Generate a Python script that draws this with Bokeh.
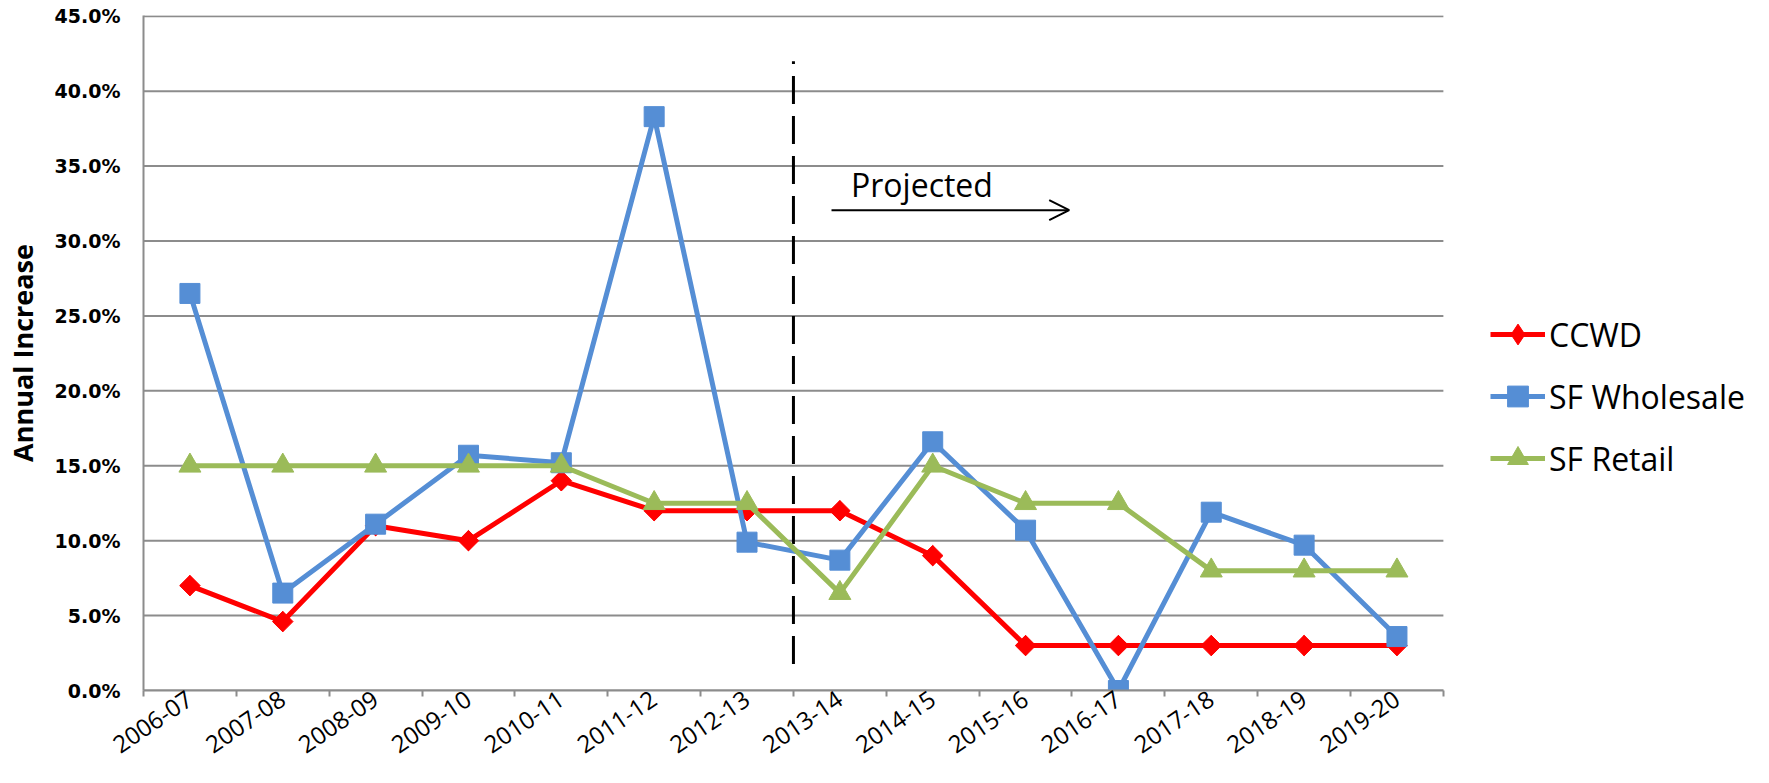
import math
from bokeh.plotting import figure
from bokeh.models import (FixedTicker, NumeralTickFormatter, Legend, LegendItem,
                          Arrow, OpenHead, Label, ColumnDataSource)
from bokeh.embed import file_html
from bokeh.resources import INLINE

# ---- data ----
categories = ["2006-07", "2007-08", "2008-09", "2009-10", "2010-11", "2011-12", "2012-13",
              "2013-14", "2014-15", "2015-16", "2016-17", "2017-18", "2018-19", "2019-20"]
ccwd = [7.0, 4.6, 11.0, 10.0, 14.0, 12.0, 12.0, 12.0, 9.0, 3.0, 3.0, 3.0, 3.0, 3.0]
sf_wholesale = [26.5, 6.5, 11.1, 15.7, 15.2, 38.3, 9.9, 8.7, 16.6, 10.7, 0.0, 11.9, 9.7, 3.6]
sf_retail = [15.0, 15.0, 15.0, 15.0, 15.0, 12.5, 12.5, 6.5, 15.0, 12.5, 12.5, 8.0, 8.0, 8.0]
y_ticks = [0.0, 5.0, 10.0, 15.0, 20.0, 25.0, 30.0, 35.0, 40.0, 45.0]

RED = "#FF0000"
BLUE = "#558ED5"
GREEN = "#9BBB59"
GRID = "#8C8C8C"

n = len(categories)
xs = list(range(n))
src = ColumnDataSource(dict(
    x=xs,
    ccwd=[v / 100 for v in ccwd],
    wh=[v / 100 for v in sf_wholesale],
    rt=[v / 100 for v in sf_retail],
))

# the frame runs on to the right edge so that the legend can sit inside it
p = figure(width=1753, height=775, output_backend="svg", toolbar_location=None,
           x_range=(-0.5, 16.84), y_range=(0, 0.4505),
           min_border_left=135, min_border_right=0, min_border_top=15, min_border_bottom=85)
p.outline_line_color = None
p.background_fill_color = "white"

# axes
p.xaxis.ticker = FixedTicker(ticks=xs, minor_ticks=[i - 0.5 for i in range(n + 1)])
p.xaxis.bounds = (-0.5, n - 0.5)
p.xaxis.major_label_overrides = {i: c for i, c in enumerate(categories)}
p.xaxis.major_label_orientation = 0.6
p.xaxis.major_tick_line_color = None
p.xaxis.major_tick_out = 0
p.xaxis.major_tick_in = 0
p.xaxis.minor_tick_line_color = GRID
p.xaxis.minor_tick_line_width = 2
p.xaxis.minor_tick_out = 6
p.xaxis.minor_tick_in = 0
p.xaxis.axis_line_color = GRID
p.xaxis.axis_line_width = 2
p.xaxis.major_label_text_font = "Open Sans"
p.xaxis.major_label_text_font_size = "24px"
p.xaxis.major_label_text_color = "black"
p.xaxis.major_label_standoff = 0

p.yaxis.ticker = FixedTicker(ticks=[v / 100 for v in y_ticks])
p.yaxis.formatter = NumeralTickFormatter(format="0.0%")
p.yaxis.major_tick_line_color = None
p.yaxis.minor_tick_line_color = None
p.yaxis.major_tick_out = 0
p.yaxis.major_tick_in = 0
p.yaxis.axis_line_color = GRID
p.yaxis.axis_line_width = 2
p.yaxis.major_label_text_font = "DejaVu Sans"
p.yaxis.major_label_text_font_style = "bold"
p.yaxis.major_label_text_font_size = "19px"
p.yaxis.major_label_text_color = "black"
p.yaxis.major_label_standoff = 23
p.yaxis.axis_label = "Annual Increase"
p.yaxis.axis_label_text_font = "Open Sans"
p.yaxis.axis_label_text_font_style = "bold"
p.yaxis.axis_label_text_font_size = "27px"
p.yaxis.axis_label_text_color = "black"
p.yaxis.axis_label_standoff = 11

p.xgrid.grid_line_color = None
p.ygrid.grid_line_color = None

# horizontal gridlines limited to the category span
gy = [v / 100 for v in y_ticks]
p.segment(x0=[-0.5] * len(gy), y0=gy, x1=[n - 0.5] * len(gy), y1=gy,
          line_color=GRID, line_width=2)

# projected divider and annotation
p.segment(x0=6.5, y0=0.0177, x1=6.5, y1=0.42, line_color="black", line_width=3,
          line_dash="28 12")
p.add_layout(Arrow(end=OpenHead(size=20, line_width=2, line_color="black"),
                   x_start=6.91, y_start=0.3206, x_end=9.47, y_end=0.3206,
                   line_width=2, line_color="black"))
p.add_layout(Label(x=7.12, y=0.338, text="Projected", text_font="Open Sans",
                   text_font_size="32px", text_color="black", text_baseline="alphabetic"))

# series
l1 = p.line("x", "ccwd", source=src, line_color=RED, line_width=5)
k1 = p.scatter("x", "ccwd", source=src, marker="diamond", size=20,
               fill_color=RED, line_color=RED)
m1 = p.scatter("x", "ccwd", source=src, marker="square", angle=math.pi / 4, size=14.5,
               fill_color=RED, line_color=RED)
l2 = p.line("x", "wh", source=src, line_color=BLUE, line_width=5)
m2 = p.scatter("x", "wh", source=src, marker="square", size=20,
               fill_color=BLUE, line_color=BLUE)
l3 = p.line("x", "rt", source=src, line_color=GREEN, line_width=5)
m3 = p.scatter("x", "rt", source=src, marker="triangle", size=22,
               fill_color=GREEN, line_color=GREEN)

legend = Legend(items=[
    LegendItem(label="CCWD", renderers=[l1, k1]),
    LegendItem(label="SF Wholesale", renderers=[l2, m2]),
    LegendItem(label="SF Retail", renderers=[l3, m3]),
], location=(1347, 206))
legend.border_line_color = None
legend.background_fill_alpha = 0
legend.padding = 0
legend.margin = 0
legend.glyph_width = 55
legend.glyph_height = 52
legend.label_height = 52
legend.spacing = 10
legend.label_standoff = 4
legend.label_text_font = "Open Sans"
legend.label_text_font_size = "32px"
legend.label_text_color = "black"
p.add_layout(legend, "center")

open("out.html", "w").write(file_html(p, INLINE))
